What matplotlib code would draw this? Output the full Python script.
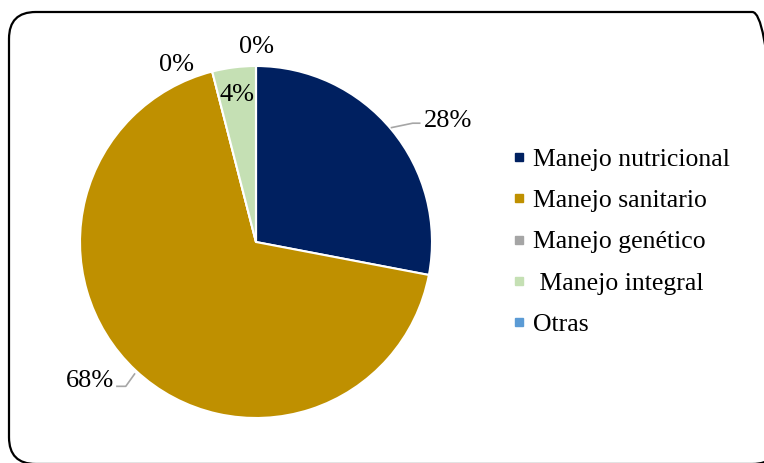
import numpy as np
import matplotlib

matplotlib.use("Agg")
import matplotlib.pyplot as plt
from matplotlib.patches import FancyBboxPatch
from matplotlib.lines import Line2D

categories = ["Manejo nutricional", "Manejo sanitario", "Manejo genético",
              " Manejo integral", "Otras"]
values = [28, 68, 0, 4, 0]
labels = ["28%", "68%", "0%", "4%", "0%"]
colors = ["#002060", "#BF9000", "#A5A5A5", "#C5E0B4", "#5B9BD5"]

plt.rcParams["font.family"] = ["Liberation Serif", "DejaVu Serif"]

W, H = 764, 463
fig = plt.figure(figsize=(W / 100, H / 100), dpi=100)

# rounded chart-area frame (runs off the right/bottom edge)
frame = FancyBboxPatch((9 / W, -1 / H), 770 / W, 452 / H,
                       boxstyle="round,pad=0,rounding_size=0.035",
                       transform=fig.transFigure, fill=False,
                       ec="black", lw=1.6, mutation_aspect=W / H)
fig.patches.append(frame)

cx, cy, r = 256, 242, 176
ax = fig.add_axes([(cx - r) / W, (H - cy - r) / H, 2 * r / W, 2 * r / H])
wedges, _ = ax.pie(values, colors=colors, startangle=90, counterclock=False,
                   wedgeprops=dict(edgecolor="white", linewidth=1.5))
ax.set_xlim(-1, 1)
ax.set_ylim(-1, 1)
ax.set_aspect("equal")
ax.axis("off")

def pos(w, rad, dx=0.0, dy=0.0):
    a = np.deg2rad((w.theta1 + w.theta2) / 2)
    return rad * np.cos(a) + dx, rad * np.sin(a) + dy

# (radius, dx, dy) for each label, in data units
lab_pos = [(1.3, 0.09, -0.14), (1.25, -0.09, 0.12), (1.05, -0.19, -0.01),
           (0.86, -0.0, -0.02), (1.11, 0.0, 0.0)]
fs = 18.5
for w, lab, (rad, dx, dy) in zip(wedges, labels, lab_pos):
    x, y = pos(w, rad, dx, dy)
    ax.text(x, y, lab, ha="center", va="center", fontsize=19, clip_on=False)

# leader lines
lc = "#A6A6A6"
ax.add_line(Line2D([0.77, 0.89, 0.93], [0.65, 0.675, 0.675], color=lc,
                   lw=1.2, clip_on=False))
ax.add_line(Line2D([-0.69, -0.74, -0.79], [-0.75, -0.82, -0.82], color=lc,
                   lw=1.2, clip_on=False))

handles = [Line2D([], [], marker="s", ls="", color=c, ms=6) for c in colors]
fig.legend(handles, categories, loc="center left",
           bbox_to_anchor=(500 / W, 1 - 242 / H), frameon=False,
           fontsize=fs, handlelength=0.5, handletextpad=0.3,
           labelspacing=0.72, borderpad=0)

fig.savefig("out.png", dpi=100)
